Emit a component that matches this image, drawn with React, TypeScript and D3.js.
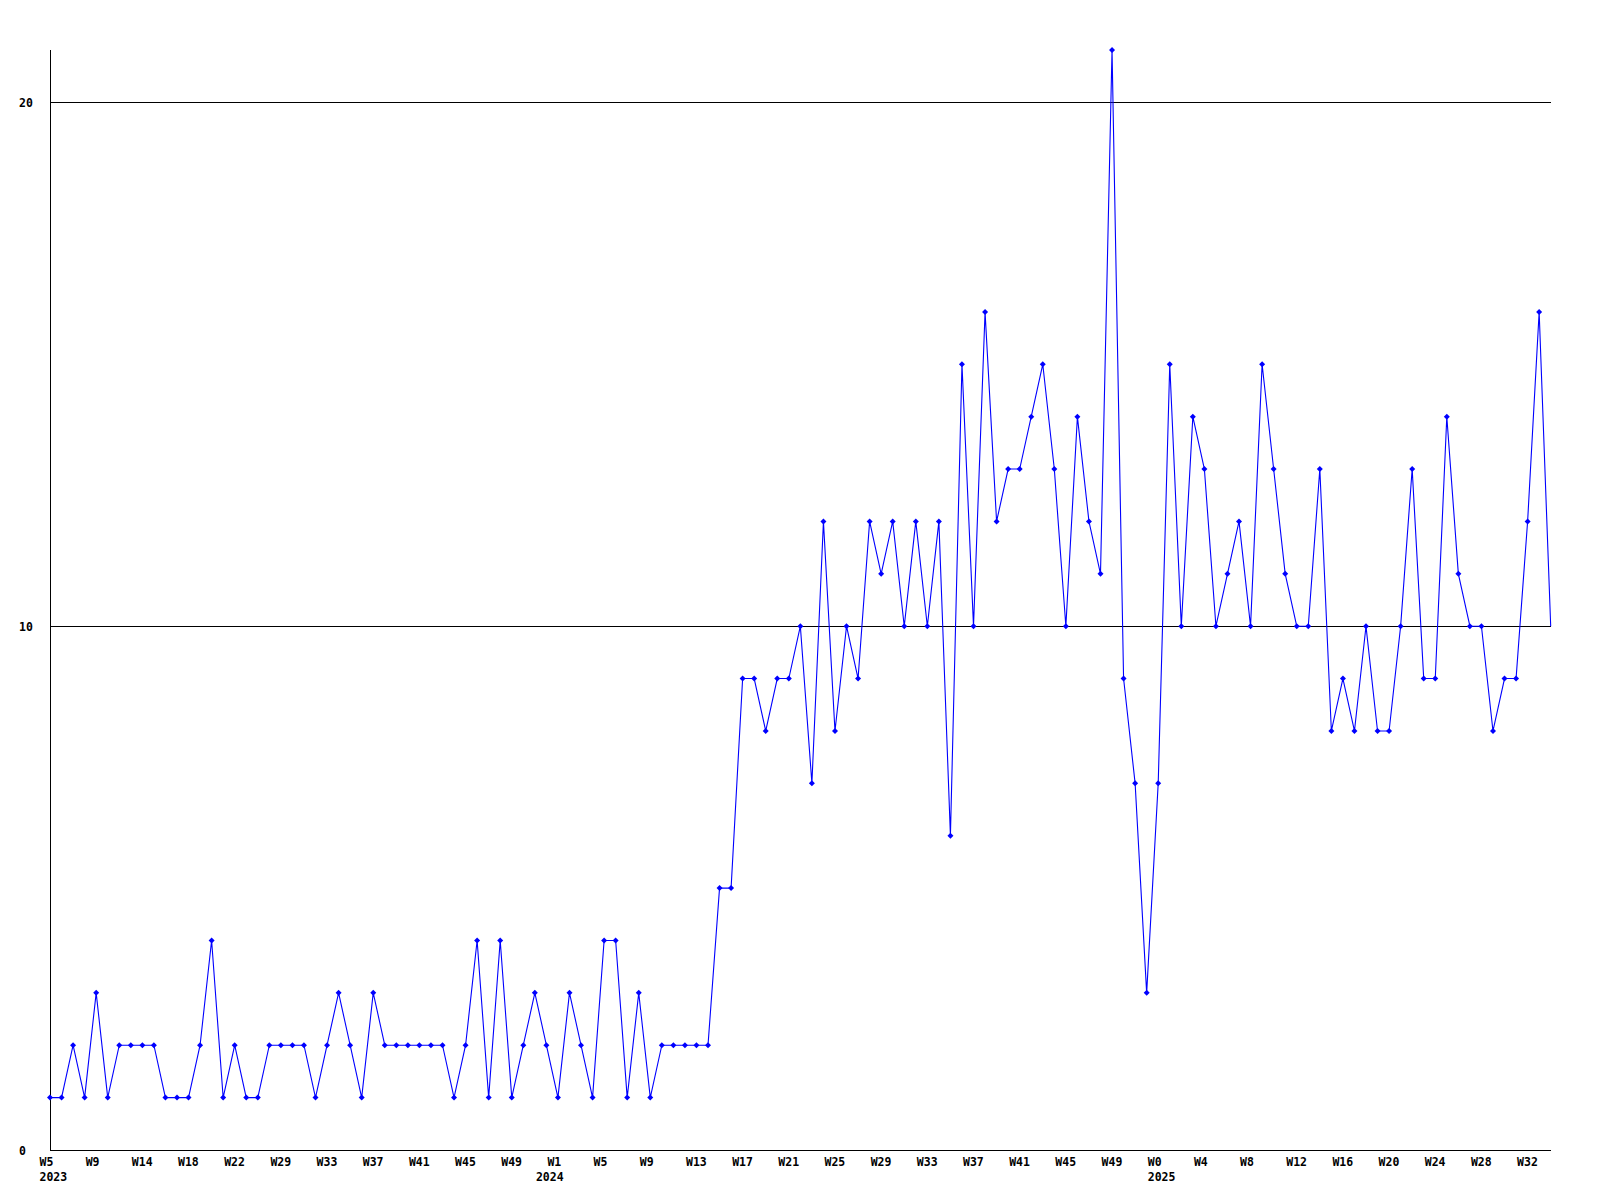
import React from "react";
import * as d3 from "d3";

// ---- data ----
const years: number[] = [
  ...Array(43).fill(2023),
  ...Array(53).fill(2024),
  ...Array(35).fill(2025),
];

const weeks2023: number[] = [5, 6, 7, 8, 9, 10, 11, 13, 14, 15, 16, 17, 18, 19, 20, 21, 22, 24, 26, 28, 29, 30, 31, 32, 33, 34, 35, 36, 37, 38, 39, 40, 41, 42, 43, 44, 45, 46, 47, 48, 49, 50, 51];
const weeks2024: number[] = d3.range(0, 53);
const weeks2025: number[] = d3.range(0, 35);
const weekNumbers: number[] = [...weeks2023, ...weeks2024, ...weeks2025];

const values: number[] = [
  1, 1, 2, 1, 3, 1, 2, 2, 2, 2,
  1, 1, 1, 2, 4, 1, 2, 1, 1, 2,
  2, 2, 2, 1, 2, 3, 2, 1, 3, 2,
  2, 2, 2, 2, 2, 1, 2, 4, 1, 4,
  1, 2, 3, 2, 1, 3, 2, 1, 4, 4,
  1, 3, 1, 2, 2, 2, 2, 2, 5, 5,
  9, 9, 8, 9, 9, 10, 7, 12, 8, 10,
  9, 12, 11, 12, 10, 12, 10, 12, 6, 15,
  10, 16, 12, 13, 13, 14, 15, 13, 10, 14,
  12, 11, 21, 9, 7, 3, 7, 15, 10, 14,
  13, 10, 11, 12, 10, 15, 13, 11, 10, 10,
  13, 8, 9, 8, 10, 8, 8, 10, 13, 9,
  9, 14, 11, 10, 10, 8, 9, 9, 12, 16,
  10,
];

const yTicks: number[] = [0, 10, 20];
const yMax = 21;

const FONT = "'DejaVu Sans Mono', monospace";

export default function App() {
  const left = 50;
  const right = 1550.7;
  const top = 50;
  const bottom = 1150;

  const idx = d3.range(values.length);
  const x = d3.scaleLinear().domain([0, values.length - 1]).range([left, right]);
  const y = d3.scaleLinear().domain([0, yMax]).range([bottom, top]);

  const line = d3
    .line<number>()
    .x((_, i) => x(i))
    .y((d) => y(d));

  const tickIdx = idx.filter((i) => i % 4 === 0);
  const yearIdx = idx.filter((i) => i === 0 || years[i] !== years[i - 1]);

  return (
    <svg
      width={1600}
      height={1200}
      style={{ position: "absolute", left: 0, top: 0, background: "#fff" }}
    >
      <rect x={0} y={0} width={1600} height={1200} fill="#fff" />
      {/* grid lines */}
      {yTicks
        .filter((t) => t > 0)
        .map((t) => (
          <line
            key={"g" + t}
            x1={left}
            x2={right + 0.3}
            y1={Math.round(y(t)) + 0.5}
            y2={Math.round(y(t)) + 0.5}
            stroke="#000"
            strokeWidth={1}
            shapeRendering="crispEdges"
          />
        ))}
      {/* axes */}
      <line x1={left + 0.5} x2={left + 0.5} y1={top} y2={bottom + 0.5} stroke="#000" shapeRendering="crispEdges" />
      <line x1={left} x2={right + 0.3} y1={bottom + 0.5} y2={bottom + 0.5} stroke="#000" shapeRendering="crispEdges" />
      {/* y labels */}
      {yTicks.map((t) => (
        <text
          key={"yl" + t}
          x={19}
          y={y(t) + 4.5}
          fontFamily={FONT}
          fontWeight="bold"
          fontSize={11.5}
          fill="#000"
        >
          {t}
        </text>
      ))}
      {/* x labels */}
      {tickIdx.map((i) => (
        <text
          key={"xl" + i}
          x={x(i) - 10.5}
          y={1166}
          fontFamily={FONT}
          fontWeight="bold"
          fontSize={11.5}
          fill="#000"
        >
          {"W" + weekNumbers[i]}
        </text>
      ))}
      {yearIdx.map((i) => (
        <text
          key={"yr" + i}
          x={x(i) - 10.5}
          y={1181}
          fontFamily={FONT}
          fontWeight="bold"
          fontSize={11.5}
          fill="#000"
        >
          {years[i]}
        </text>
      ))}
      {/* data line */}
      <path d={line(values) || ""} fill="none" stroke="#0000ff" strokeWidth={1.1} />
      {values.slice(0, values.length - 1).map((v, i) => (
        <path
          key={"m" + i}
          transform={`translate(${x(i)},${y(v)})`}
          d="M-3,0L0,-3L3,0L0,3Z"
          fill="#0000ff"
        />
      ))}
    </svg>
  );
}
